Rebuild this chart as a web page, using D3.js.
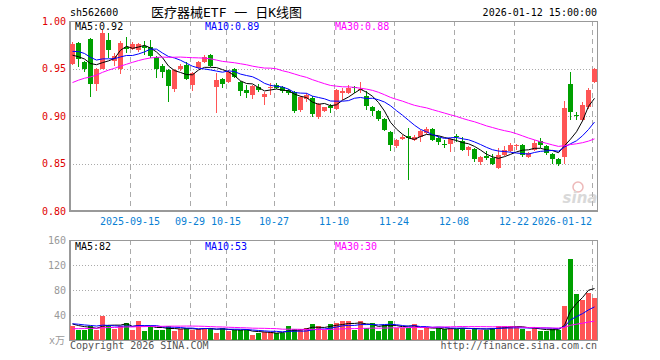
<!DOCTYPE html>
<html lang="zh">
<head>
<meta charset="UTF-8">
<script src="https://d3js.org/d3.v7.min.js"></script>
<style>
    body { margin: 0; background: #fff; }
    text { font-family: "DejaVu Sans Mono", "Noto Sans CJK SC", monospace; font-size: 10px; }
</style>
</head>
<body>
<svg id="kline" width="660" height="360"></svg>
<script>
    // trading days shown (2025-09-01 .. 2026-01-12)
    const dates = [
        "2025-09-01","2025-09-02","2025-09-03","2025-09-04","2025-09-05","2025-09-08","2025-09-09","2025-09-10","2025-09-11","2025-09-12",
        "2025-09-15","2025-09-16","2025-09-17","2025-09-18","2025-09-19","2025-09-22","2025-09-23","2025-09-24","2025-09-25","2025-09-26",
        "2025-09-29","2025-09-30","2025-10-09","2025-10-10","2025-10-13","2025-10-14","2025-10-15","2025-10-16","2025-10-17","2025-10-20",
        "2025-10-21","2025-10-22","2025-10-23","2025-10-24","2025-10-27","2025-10-28","2025-10-29","2025-10-30","2025-10-31","2025-11-03",
        "2025-11-04","2025-11-05","2025-11-06","2025-11-07","2025-11-10","2025-11-11","2025-11-12","2025-11-13","2025-11-14","2025-11-17",
        "2025-11-18","2025-11-19","2025-11-20","2025-11-21","2025-11-24","2025-11-25","2025-11-26","2025-11-27","2025-11-28","2025-12-01",
        "2025-12-02","2025-12-03","2025-12-04","2025-12-05","2025-12-08","2025-12-09","2025-12-10","2025-12-11","2025-12-12","2025-12-15",
        "2025-12-16","2025-12-17","2025-12-18","2025-12-19","2025-12-22","2025-12-23","2025-12-24","2025-12-25","2025-12-26","2025-12-29",
        "2025-12-30","2025-12-31","2026-01-05","2026-01-06","2026-01-07","2026-01-08","2026-01-09","2026-01-12"
    ];
    const open = [
        0.955,0.977,0.957,0.981,0.934,0.950,0.980,0.958,0.950,0.973,
        0.971,0.969,0.974,0.973,0.962,0.953,0.948,0.928,0.949,0.954,
        0.933,0.951,0.957,0.964,0.931,0.939,0.936,0.950,0.936,0.927,
        0.922,0.931,0.920,0.929,0.933,0.931,0.927,0.925,0.906,0.918,
        0.919,0.899,0.905,0.911,0.907,0.924,0.924,0.931,0.927,0.921,
        0.910,0.905,0.897,0.883,0.868,0.876,0.879,0.875,0.878,0.882,
        0.886,0.877,0.871,0.871,0.879,0.874,0.864,0.865,0.852,0.858,
        0.856,0.845,0.859,0.863,0.868,0.870,0.857,0.864,0.874,0.868,
        0.860,0.855,0.857,0.934,0.901,0.896,0.909,0.936
    ];
    const high = [
        0.978,0.978,0.958,0.982,0.951,0.991,0.987,0.966,0.979,0.983,
        0.978,0.977,0.979,0.980,0.963,0.955,0.950,0.949,0.955,0.957,
        0.946,0.958,0.964,0.965,0.945,0.940,0.948,0.951,0.937,0.933,
        0.933,0.934,0.925,0.935,0.935,0.932,0.928,0.926,0.921,0.924,
        0.921,0.914,0.910,0.913,0.928,0.929,0.933,0.932,0.936,0.926,
        0.911,0.906,0.898,0.884,0.876,0.880,0.887,0.880,0.885,0.888,
        0.887,0.879,0.875,0.877,0.881,0.878,0.868,0.866,0.858,0.863,
        0.860,0.866,0.868,0.872,0.871,0.871,0.862,0.875,0.877,0.869,
        0.861,0.856,0.916,0.946,0.904,0.915,0.929,0.951
    ];
    const low = [
        0.954,0.952,0.946,0.920,0.926,0.949,0.961,0.953,0.944,0.966,
        0.969,0.967,0.964,0.961,0.940,0.940,0.915,0.925,0.947,0.938,
        0.926,0.950,0.956,0.952,0.903,0.930,0.935,0.940,0.921,0.919,
        0.918,0.925,0.912,0.922,0.928,0.924,0.922,0.903,0.904,0.915,
        0.899,0.897,0.904,0.903,0.906,0.917,0.923,0.924,0.924,0.906,
        0.900,0.895,0.884,0.863,0.866,0.875,0.833,0.874,0.873,0.881,
        0.874,0.870,0.866,0.862,0.873,0.863,0.858,0.852,0.848,0.854,
        0.848,0.844,0.858,0.862,0.864,0.857,0.856,0.863,0.866,0.859,
        0.850,0.847,0.850,0.896,0.896,0.895,0.907,0.935
    ];
    const close = [
        0.976,0.960,0.950,0.934,0.950,0.987,0.969,0.963,0.977,0.971,
        0.976,0.976,0.972,0.963,0.950,0.946,0.932,0.948,0.953,0.939,
        0.945,0.957,0.962,0.953,0.938,0.934,0.946,0.941,0.926,0.924,
        0.932,0.927,0.923,0.931,0.929,0.926,0.924,0.905,0.920,0.922,
        0.902,0.913,0.909,0.908,0.927,0.926,0.930,0.930,0.928,0.911,
        0.905,0.897,0.885,0.869,0.875,0.878,0.877,0.878,0.884,0.886,
        0.875,0.873,0.869,0.876,0.878,0.864,0.867,0.855,0.857,0.856,
        0.850,0.859,0.864,0.869,0.869,0.859,0.861,0.872,0.869,0.861,
        0.855,0.850,0.908,0.904,0.900,0.912,0.927,0.950
    ];
    // volume, 万手
    const volume = [
        22,16.5,16.5,22,16.5,38,24.5,18,22,28,
        16.5,30,15,22,16.5,16.5,22,15,18,19,
        16.5,18,20,19,12,20,14,16.5,16.5,16.5,
        7.5,10.7,13,13,10.7,12,23,17.5,17.5,19,
        25.6,22,16.5,26,28,31,31,16.5,31,19,
        28,14,23.5,30,20,19,19,26,16.5,19,
        15,19,18,20,18,19,16.5,19,16.5,16.5,
        20,23,22,22,21,18,15,20,15,15,
        17,16,55,130,74,64.5,75,68
    ];
    // estimated August closes / volumes that feed the moving averages at the left edge
    const prevCloses = [
        0.885,0.888,0.892,0.895,0.898,0.900,0.905,0.908,0.912,0.915,
        0.920,0.925,0.928,0.932,0.937,0.940,0.944,0.948,0.950,0.954,
        0.962,0.970,0.975,0.978,0.975,0.968,0.962,0.958,0.956
    ];
    const prevVolumes = [
        12,13,11,14,12,15,13,12,14,16,
        13,15,14,12,16,15,14,17,15,17,
        24,28,30,26,24,29,25,27,25
    ];
    const priceTicks = [0.80, 0.85, 0.90, 0.95, 1.00];
    const volumeTicks = [40, 80, 120, 160];
    const tickDates = ["2025-09-15","2025-09-29","2025-10-15","2025-10-27","2025-11-10","2025-11-24","2025-12-08","2025-12-22","2026-01-12"];
    const tickLabels = ["2025-09-15","09-29","10-15","10-27","11-10","11-24","12-08","12-22","2026-01-12"];

    const maSpecs = [
        { n: 5, color: "#000000", lx: 75 },
        { n: 10, color: "#0000ff", lx: 205 },
        { n: 30, color: "#ff00ff", lx: 335 }
    ];
    const upColor = "#ff5555";
    const downColor = "#00a000";
    const gridColor = "#aaaaaa";
    const frameColor = "#999999";

    const svg = d3.select("#kline");
    const left = 70, right = 598;

    const x = d3.scaleBand().domain(dates).range([left, right]);
    const y = d3.scaleLinear().domain([0.80, 1.00]).range([211, 21]);
    const yv = d3.scaleLinear().domain([0, 160]).range([340, 240]);
    const cx = d => x(d) + 2.5;

    function movingAvg(prev, arr, n) {
        const all = prev.concat(arr);
        return arr.map((_, i) => d3.mean(all.slice(prev.length + i - n + 1, prev.length + i + 1)));
    }

    const data = dates.map((d, i) => ({
        date: d, o: open[i], h: high[i], l: low[i], c: close[i], v: volume[i],
        up: close[i] >= open[i]
    }));

    // ---- header texts
    svg.append("text").attr("x", 70).attr("y", 16).text("sh562600");
    svg.append("text").attr("x", 151).attr("y", 17).style("font-size", "13px").text("医疗器械ETF 一 日K线图");
    svg.append("text").attr("x", 597).attr("y", 16).attr("text-anchor", "end").text("2026-01-12 15:00:00");

    // ---- grids
    const grid = svg.append("g").attr("shape-rendering", "crispEdges");
    grid.selectAll("line.hp")
        .data(priceTicks.filter(t => t > 0.80 && t < 1.00))
        .join("line")
        .attr("x1", left).attr("x2", right)
        .attr("y1", d => Math.round(y(d)) + 0.5).attr("y2", d => Math.round(y(d)) + 0.5)
        .attr("stroke", gridColor).attr("stroke-dasharray", "1,2");
    grid.selectAll("line.hv")
        .data(volumeTicks.filter(t => t < 160))
        .join("line")
        .attr("x1", left).attr("x2", right)
        .attr("y1", d => Math.round(yv(d)) + 0.5).attr("y2", d => Math.round(yv(d)) + 0.5)
        .attr("stroke", gridColor).attr("stroke-dasharray", "1,2");
    tickDates.forEach(d => {
        [[21, 211], [240, 340]].forEach(([a, b]) => {
            grid.append("line")
                .attr("x1", x(d) + 0.5).attr("x2", x(d) + 0.5)
                .attr("y1", a).attr("y2", b)
                .attr("stroke", gridColor).attr("stroke-width", 1.5)
                .attr("stroke-dasharray", "5,4");
        });
    });

    // ---- frames
    [[21, 211], [240, 340]].forEach(([top, bottom]) => {
        const f = svg.append("g").attr("shape-rendering", "crispEdges").attr("stroke", frameColor);
        f.append("line").attr("x1", left).attr("x2", right).attr("y1", top + 0.5).attr("y2", top + 0.5);
        f.append("line").attr("x1", right - 0.5).attr("x2", right - 0.5).attr("y1", top).attr("y2", bottom);
        f.append("line").attr("x1", left - 1).attr("x2", right).attr("y1", bottom).attr("y2", bottom).attr("stroke-width", 2);
        f.append("line").attr("x1", left).attr("x2", left).attr("y1", top).attr("y2", bottom + 1).attr("stroke-width", 2);
    });

    // ---- axis labels
    svg.selectAll("text.py")
        .data(priceTicks)
        .join("text")
        .attr("x", 66).attr("y", d => y(d)).attr("dy", "0.35em")
        .attr("text-anchor", "end").attr("fill", "#e00000")
        .text(d => d3.format(".2f")(d));
    svg.selectAll("text.vy")
        .data(volumeTicks)
        .join("text")
        .attr("x", 66).attr("y", d => yv(d)).attr("dy", "0.35em")
        .attr("text-anchor", "end").attr("fill", "#999")
        .text(d => d);
    svg.append("text").attr("x", 49).attr("y", 344).attr("fill", "#999").text("x万");

    // last label is right-aligned so it stays inside the frame
    svg.selectAll("text.xl")
        .data(tickDates)
        .join("text")
        .attr("x", d => x(d))
        .attr("y", 225)
        .attr("text-anchor", (d, i) => i === tickDates.length - 1 ? "end" : "middle")
        .attr("fill", "#0a7fd4")
        .text((d, i) => tickLabels[i]);

    // ---- watermark
    const wm = svg.append("g").attr("opacity", 0.55);
    wm.append("circle").attr("cx", 578).attr("cy", 187).attr("r", 5).attr("fill", "none").attr("stroke", "#e08080").attr("stroke-width", 1.5);
    wm.append("text").attr("x", 580).attr("y", 203).attr("text-anchor", "middle")
        .style("font-family", "DejaVu Sans").style("font-size", "15px").style("font-style", "italic").style("font-weight", "bold")
        .attr("fill", "#bbb").text("sina");

    // ---- volume bars
    svg.append("g").attr("shape-rendering", "crispEdges")
        .selectAll("rect")
        .data(data)
        .join("rect")
        .attr("x", d => x(d.date))
        .attr("width", 5)
        .attr("y", d => yv(d.v))
        .attr("height", d => yv(0) - yv(d.v))
        .attr("fill", d => d.up ? upColor : downColor);

    // ---- candles
    const candles = svg.append("g").attr("shape-rendering", "crispEdges");
    candles.selectAll("line")
        .data(data)
        .join("line")
        .attr("x1", d => cx(d.date)).attr("x2", d => cx(d.date))
        .attr("y1", d => y(d.h)).attr("y2", d => y(d.l))
        .attr("stroke", d => d.up ? upColor : downColor);
    candles.selectAll("rect")
        .data(data)
        .join("rect")
        .attr("x", d => x(d.date))
        .attr("width", 5)
        .attr("y", d => y(Math.max(d.o, d.c)))
        .attr("height", d => Math.max(1, Math.abs(y(d.o) - y(d.c))))
        .attr("fill", d => d.up ? upColor : downColor);

    // ---- moving averages
    const fmt2 = d3.format(".2f");
    maSpecs.forEach(spec => {
        const pm = movingAvg(prevCloses, close, spec.n);
        const vm = movingAvg(prevVolumes, volume, spec.n);
        svg.append("path")
            .datum(pm)
            .attr("fill", "none").attr("stroke", spec.color).attr("stroke-width", 1)
            .attr("d", d3.line().x((d, i) => cx(dates[i])).y(d => y(d)));
        svg.append("path")
            .datum(vm)
            .attr("fill", "none").attr("stroke", spec.color).attr("stroke-width", 1)
            .attr("d", d3.line().x((d, i) => cx(dates[i])).y(d => yv(d)));
        svg.append("text").attr("x", spec.lx).attr("y", 30).attr("fill", spec.color)
            .text(`MA${spec.n}:${fmt2(pm[pm.length - 1])}`);
        svg.append("text").attr("x", spec.lx).attr("y", 250).attr("fill", spec.color)
            .text(`MA${spec.n}:${Math.round(vm[vm.length - 1])}`);
    });

    // ---- footer
    svg.append("text").attr("x", 70).attr("y", 349).attr("fill", "#555").text("Copyright 2026 SINA.COM");
    svg.append("text").attr("x", 597).attr("y", 349).attr("text-anchor", "end").attr("fill", "#555").text("http://finance.sina.com.cn");
</script>
</body>
</html>
